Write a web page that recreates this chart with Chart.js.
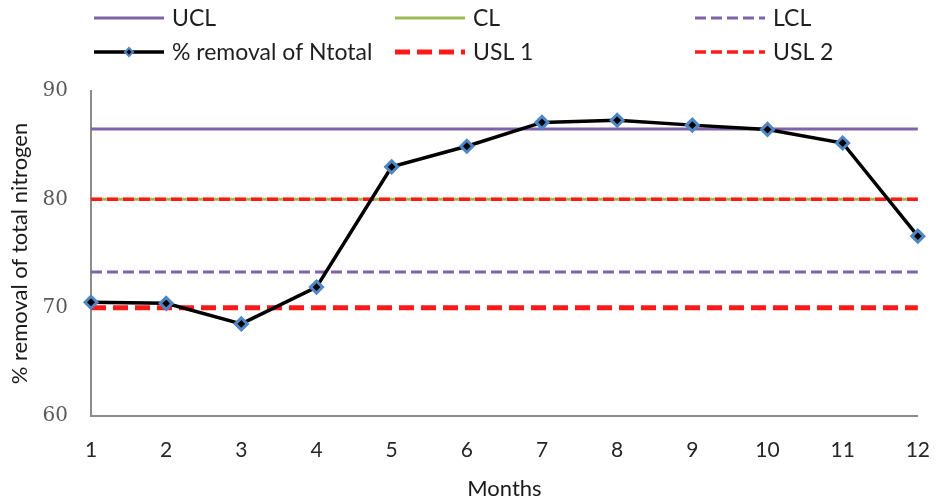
<!DOCTYPE html>
<html>
<head>
<meta charset="utf-8">
<script src="https://cdn.jsdelivr.net/npm/chart.js@4"></script>
<style>
  html, body { margin: 0; padding: 0; background: #fff; overflow: hidden; }
  #wrap { width: 952px; height: 499px; }
</style>
</head>
<body>
<div id="wrap"><canvas id="c" width="952" height="499"></canvas></div>
<script>
// ---- data ----
const months = ['1','2','3','4','5','6','7','8','9','10','11','12'];
const removalN = [70.5, 70.4, 68.5, 71.9, 83.0, 84.9, 87.1, 87.3, 86.85, 86.45, 85.2, 76.6];
const uclValue = 86.5;
const clValue = 80;
const lclValue = 73.3;
const usl1Value = 70;
const usl2Value = 80;
const yTicks = [60, 70, 80, 90];

const ucl = months.map(() => uclValue);
const cl = months.map(() => clValue);
const lcl = months.map(() => lclValue);
const usl1 = months.map(() => usl1Value);
const usl2 = months.map(() => usl2Value);

const PURPLE = '#7f63a8';
const GREEN = '#9bbb59';
const RED = '#ff1a1a';
const BLUE = '#4f86c6';

const flat = (label, data, color, width, dash, order) => ({
  label, data, borderColor: color, backgroundColor: color, borderWidth: width,
  borderDash: dash, pointRadius: 0, pointHoverRadius: 0, tension: 0, order, fill: false
});

const datasets = [
  flat('UCL', ucl, PURPLE, 3, [], 5),
  flat('CL', cl, GREEN, 3, [], 3),
  flat('LCL', lcl, PURPLE, 3, [11, 5], 4),
  {
    label: '% removal of Ntotal', data: removalN, borderColor: '#000', backgroundColor: '#000',
    borderWidth: 3.5, pointStyle: 'rectRot', pointRadius: 6, pointBorderWidth: 3,
    pointBorderColor: BLUE, pointBackgroundColor: '#000', tension: 0, order: 0, fill: false
  },
  flat('USL 1', usl1, RED, 5, [15, 7], 1),
  flat('USL 2', usl2, RED, 3.5, [11, 5], 2)
];

// legend positions (3 columns x 2 rows)
const legendCols = [94, 395, 695];
const legendRows = [18, 52];
const legendSlots = [[0,0],[1,0],[2,0],[0,1],[1,1],[2,1]];

const customLegend = {
  id: 'customLegend',
  afterDraw(chart) {
    const ctx = chart.ctx;
    chart.data.datasets.forEach((ds, i) => {
      const [ci, ri] = legendSlots[i];
      const x = legendCols[ci], y = legendRows[ri];
      const len = 70;
      ctx.save();
      ctx.strokeStyle = ds.borderColor;
      ctx.lineWidth = ds.borderWidth;
      ctx.setLineDash(ds.borderDash || []);
      ctx.beginPath();
      ctx.moveTo(x, y);
      ctx.lineTo(x + len, y);
      ctx.stroke();
      ctx.setLineDash([]);
      if (ds.pointRadius && ds.pointStyle) {
        const cx = x + len / 2, r = 4;
        ctx.fillStyle = '#000';
        ctx.strokeStyle = ds.pointBorderColor;
        ctx.lineWidth = 2;
        ctx.beginPath();
        ctx.moveTo(cx, y - r); ctx.lineTo(cx + r, y); ctx.lineTo(cx, y + r); ctx.lineTo(cx - r, y);
        ctx.closePath(); ctx.fill(); ctx.stroke();
      }
      ctx.fillStyle = '#1f1f1f';
      ctx.font = '23px Lato';
      ctx.textBaseline = 'middle';
      ctx.textAlign = 'left';
      ctx.fillText(ds.label, x + len + 8, y + 1);
      ctx.restore();
    });
  }
};

new Chart(document.getElementById('c'), {
  type: 'line',
  data: { labels: months, datasets },
  plugins: [customLegend],
  options: {
    responsive: false,
    animation: false,
    devicePixelRatio: 1,
    layout: { padding: { top: 91, right: 21, left: 0, bottom: 0 } },
    plugins: { legend: { display: false }, tooltip: { enabled: false } },
    scales: {
      x: {
        type: 'category',
        offset: false,
        grid: { display: false, drawTicks: false },
        border: { display: true, color: '#8c8c8c', width: 2 },
        ticks: { color: '#262626', font: { family: 'Lato', size: 21 }, padding: 22, maxRotation: 0, autoSkip: false },
        title: { display: true, text: 'Months', color: '#1a1a1a', font: { family: 'Lato', size: 22 }, padding: { top: 0, bottom: -3 } },
        afterFit(scale) { scale.height = 83; }
      },
      y: {
        min: 60, max: 90,
        afterBuildTicks(scale) { scale.ticks = yTicks.map(v => ({ value: v })); },
        grid: { display: false, drawTicks: false },
        border: { display: true, color: '#8c8c8c', width: 2 },
        ticks: { color: '#595959', font: { family: 'DejaVu Serif', size: 20 }, padding: 23 },
        title: { display: true, text: '% removal of total nitrogen', color: '#1a1a1a', font: { family: 'Lato', size: 22 }, padding: { top: 7, bottom: 0 } },
        afterFit(scale) { scale.width = 91; }
      }
    }
  }
});
</script>
</body>
</html>
